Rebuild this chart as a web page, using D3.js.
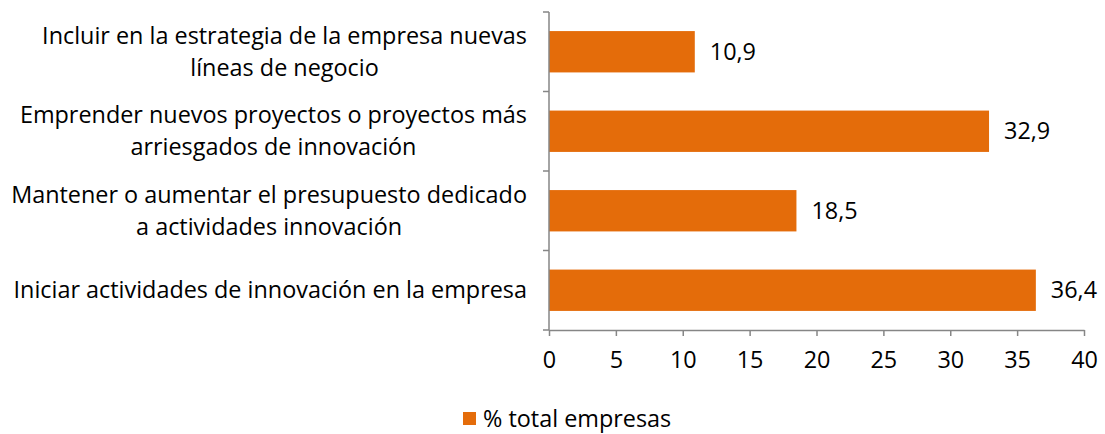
<!DOCTYPE html>
<html>
<head>
<meta charset="utf-8">
<script src="https://cdn.jsdelivr.net/npm/d3@7"></script>
<style>
  body { margin: 0; background: #fff; }
  text { font-family: "Open Sans", sans-serif; fill: #000; }
</style>
</head>
<body>
<svg id="chart" width="1105" height="434"></svg>
<script>
// data, top to bottom
const categories = [
    ["Incluir en la estrategia de la empresa nuevas", "líneas de negocio"],
    ["Emprender nuevos proyectos o proyectos más", "arriesgados de innovación"],
    ["Mantener o aumentar el presupuesto dedicado", "a actividades innovación"],
    ["Iniciar actividades de innovación en la empresa"]
];
const values = [10.9, 32.9, 18.5, 36.4];
const xTicks = [0, 5, 10, 15, 20, 25, 30, 35, 40];
const seriesName = "% total empresas";

const orange = "#e46c0a";
const axisGrey = "#868686";
const fontSize = 23.4;

let svg = d3.select("#chart");
let plotLeft = 549, plotRight = 1084, plotTop = 12, plotBottom = 330;

let xScale = d3.scaleLinear().domain([0, 40]).range([plotLeft, plotRight]);
let yScale = d3.scaleBand()
    .domain(d3.range(categories.length))
    .range([plotTop, plotBottom])
    .paddingInner(0.48)
    .paddingOuter(0.24);

// bars
svg.append("g")
    .selectAll("rect")
    .data(values)
    .join("rect")
    .attr("x", xScale(0))
    .attr("y", (d, i) => yScale(i))
    .attr("width", d => xScale(d) - xScale(0))
    .attr("height", yScale.bandwidth())
    .attr("fill", orange);

// value labels
svg.append("g")
    .selectAll("text")
    .data(values)
    .join("text")
    .attr("x", d => xScale(d) + 15)
    .attr("y", (d, i) => yScale(i) + yScale.bandwidth() / 2)
    .attr("dy", "0.35em")
    .attr("font-size", fontSize)
    .text(d => d.toFixed(1).replace(".", ","));

// y axis: line with ticks at category boundaries
let yAxis = svg.append("g");
yAxis.append("line")
    .attr("x1", plotLeft).attr("x2", plotLeft)
    .attr("y1", plotTop).attr("y2", plotBottom)
    .attr("stroke", axisGrey).attr("stroke-width", 1.5);
let step = (plotBottom - plotTop) / categories.length;
yAxis.selectAll("line.tick")
    .data(d3.range(categories.length + 1))
    .join("line")
    .attr("class", "tick")
    .attr("x1", plotLeft - 6).attr("x2", plotLeft)
    .attr("y1", i => plotTop + i * step).attr("y2", i => plotTop + i * step)
    .attr("stroke", axisGrey).attr("stroke-width", 1.5);

// x axis
let xAxis = svg.append("g")
    .attr("transform", `translate(0,${plotBottom})`)
    .call(d3.axisBottom(xScale).tickValues(xTicks).tickSize(6).tickSizeOuter(0).tickPadding(15));
xAxis.select(".domain").attr("stroke", axisGrey).attr("stroke-width", 1.5);
xAxis.selectAll(".tick line").attr("stroke", axisGrey).attr("stroke-width", 1.5);
xAxis.selectAll(".tick text")
    .attr("font-size", fontSize)
    .attr("font-family", "'Open Sans', sans-serif")
    .attr("fill", "#000");

// category labels, lines centred on each other, right edge at 527
let labelRight = 527;
let lineGap = 32;
categories.forEach((lines, i) => {
    let cy = yScale(i) + yScale.bandwidth() / 2;
    let g = svg.append("g");
    let texts = lines.map((ln, k) => g.append("text")
        .attr("y", cy + (k - (lines.length - 1) / 2) * lineGap)
        .attr("dy", "0.35em")
        .attr("font-size", fontSize)
        .attr("text-anchor", "middle")
        .text(ln));
    let maxW = d3.max(texts, t => t.node().getComputedTextLength());
    texts.forEach(t => t.attr("x", labelRight - maxW / 2));
});

// legend
let legend = svg.append("g").attr("transform", "translate(463,412)");
legend.append("rect").attr("width", 13).attr("height", 13).attr("fill", orange);
legend.append("text")
    .attr("x", 20).attr("y", 7)
    .attr("dy", "0.35em")
    .attr("font-size", fontSize)
    .text(seriesName);
</script>
</body>
</html>
